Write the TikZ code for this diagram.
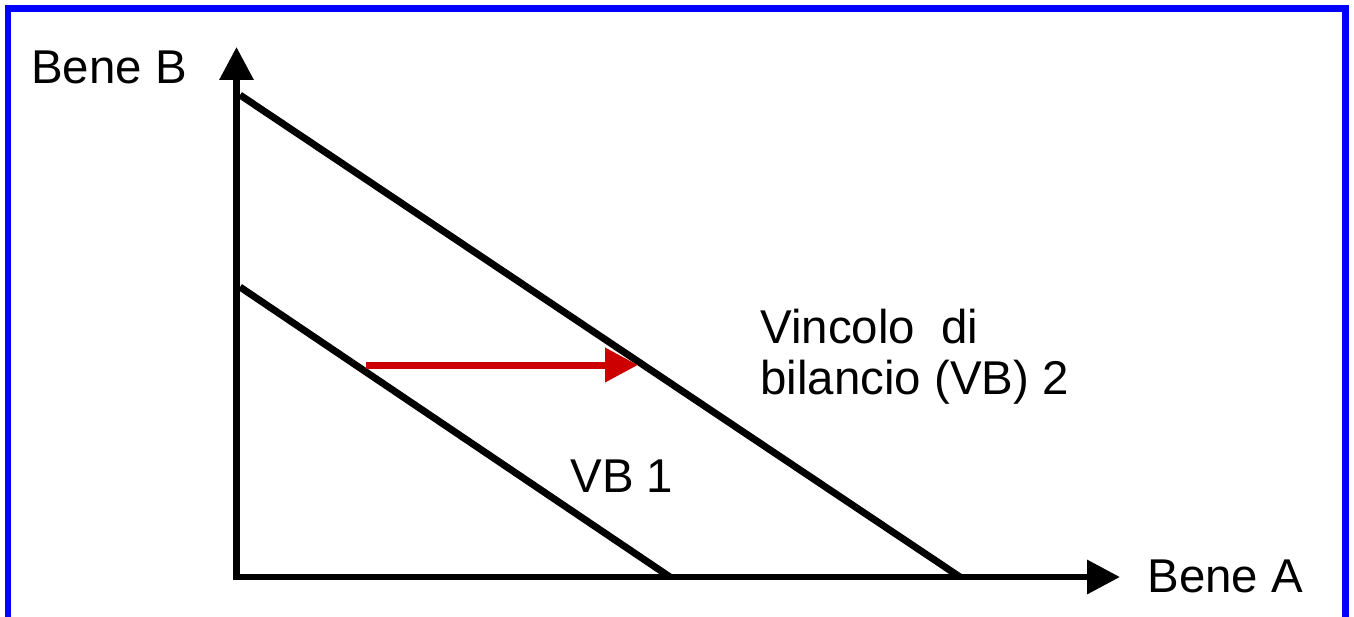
\documentclass[tikz,border=0pt]{standalone}
\usepackage{fontspec}
\setmainfont{Liberation Sans}
\usetikzlibrary{arrows.meta, positioning}

\definecolor{frameblue}{RGB}{0,0,255}
\definecolor{shiftred}{RGB}{204,0,0}

\begin{document}
\begin{tikzpicture}[
    x=0.02cm, y=-0.02cm,
    every node/.style={font=\fontsize{27pt}{29pt}\selectfont, inner sep=0pt},
    axis/.style={line width=0.13cm, line join=miter,
                 {Triangle[length=0.66cm, width=0.66cm]}-{Triangle[length=0.66cm, width=0.66cm]}},
    budget/.style={line width=0.14cm},
    shiftarr/.style={line width=0.14cm, color=shiftred,
                  -{Triangle[length=0.66cm, width=0.66cm]}},
    lbl/.style={anchor=base west, align=left},
]
    \useasboundingbox (0,0) rectangle (1354,616);
    \begin{scope}
        \clip (0,0) rectangle (1354,616);
        \draw[frameblue, line width=0.14cm] (8,8) rectangle (1345.5,640);
    \end{scope}

    % assi
    \coordinate (O) at (236.5,577);
    \coordinate (ytop) at (236.5,47);
    \coordinate (xend) at (1120,577);
    \draw[axis] (ytop) |- (xend);

    \node[lbl] (beneB) at (31,83) {Bene B};
    \node[lbl] (beneA) at (1147,592) {Bene A};

    % vincoli di bilancio
    \coordinate (vb1a) at (240,287);
    \coordinate (vb1b) at (670,577);
    \coordinate (vb2a) at (240,95);
    \coordinate (vb2b) at (960,577);
    \draw[budget] (vb1a) -- (vb1b);
    \draw[budget] (vb2a) -- (vb2b);

    % spostamento
    \coordinate (sh1) at (366,365);
    \coordinate (sh2) at (638,365);
    \draw[shiftarr] (sh1) -- (sh2);

    \node[lbl] (vb2) at (760,394) {Vincolo\ \ di\\bilancio (VB) 2};
    \node[lbl] (vb1) at (570,492) {VB 1};
\end{tikzpicture}
\end{document}
